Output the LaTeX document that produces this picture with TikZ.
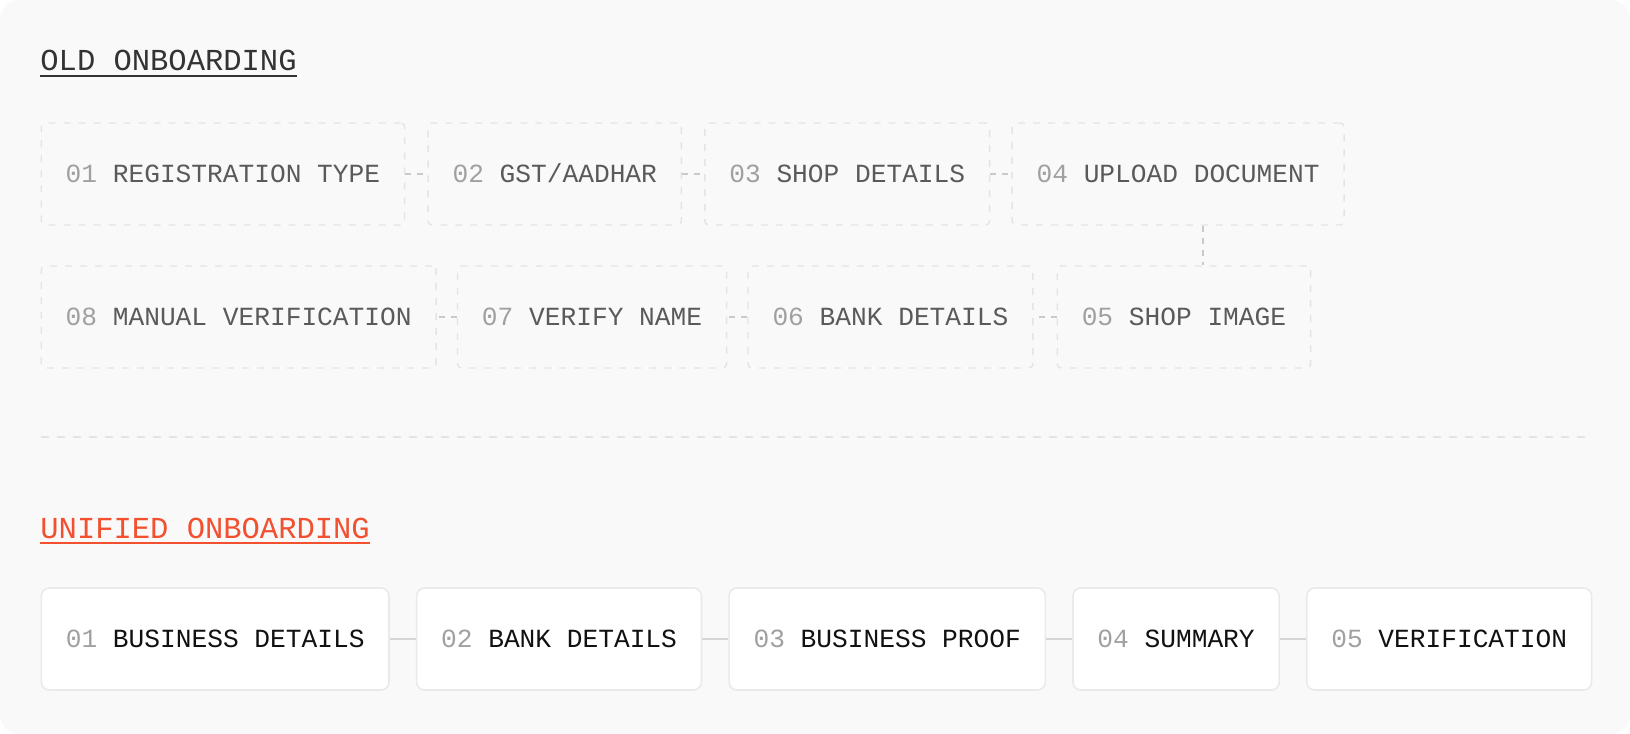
\documentclass[tikz,border=0pt]{standalone}
\usepackage{fontspec}
\setmonofont{Liberation Mono}
\usepackage{tikz}
\usetikzlibrary{positioning}
\definecolor{panelBg}{HTML}{F9F9F9}
\definecolor{oldEdge}{HTML}{E4E4E4}
\definecolor{oldLink}{HTML}{CACACA}
\definecolor{oldText}{HTML}{5A5A5A}
\definecolor{numGray}{HTML}{A0A0A0}
\definecolor{titleDark}{HTML}{333333}
\definecolor{accentRed}{HTML}{F2502F}
\definecolor{newEdge}{HTML}{EAEAEA}
\definecolor{newLink}{HTML}{D6D6D6}
\definecolor{newText}{HTML}{111111}
\newcommand{\stepNum}[1]{{\color{numGray}#1}}

\begin{document}
\begin{tikzpicture}[x=0.5pt, y=-0.5pt,
    boxfont/.style={font=\ttfamily\fontsize{13.1pt}{15pt}\selectfont},
    oldbox/.style={boxfont, draw=oldEdge, dash pattern=on 3.5pt off 4pt, line width=0.7pt,
      fill=panelBg, rounded corners=2pt, minimum height=51pt, inner xsep=12.25pt,
      inner ysep=0pt, text height=8.7pt, text depth=0pt, text=oldText},
    newbox/.style={boxfont, draw=newEdge, line width=0.8pt, fill=white, rounded corners=4pt,
      minimum height=51pt, inner xsep=12.25pt, inner ysep=0pt, text height=8.7pt,
      text depth=0pt, text=newText},
    oldlink/.style={draw=oldLink, dash pattern=on 3pt off 3pt, line width=0.6pt},
    newlink/.style={draw=newLink, line width=1pt},
    sepline/.style={draw=oldEdge, dash pattern=on 4pt off 4pt, line width=0.6pt},
    heading/.style={anchor=base west, inner sep=0pt, font=\ttfamily\fontsize{15.25pt}{18pt}\selectfont}
  ]
        \useasboundingbox (0,0) rectangle (1630,734);
        \fill[white] (0,0) rectangle (1630,734);
        \fill[panelBg, rounded corners=10pt] (0,0) rectangle (1630,734);

        % old flow
        \node[heading, text=titleDark] (hOld) at (40,70) {OLD ONBOARDING};
        \draw[titleDark, line width=1pt] ([yshift=-3pt]hOld.base west) -- ([yshift=-3pt]hOld.base east);

        \node[oldbox, anchor=west] (o01) at (40.5,174) {\stepNum{01} REGISTRATION TYPE};
        \node[oldbox, right=11pt of o01] (o02) {\stepNum{02} GST/AADHAR};
        \node[oldbox, right=11pt of o02] (o03) {\stepNum{03} SHOP DETAILS};
        \node[oldbox, right=10.5pt of o03] (o04) {\stepNum{04} UPLOAD DOCUMENT};

        \node[oldbox, anchor=west] (o08) at (40.5,317) {\stepNum{08} MANUAL VERIFICATION};
        \node[oldbox, right=10pt of o08] (o07) {\stepNum{07} VERIFY NAME};
        \node[oldbox, right=10pt of o07] (o06) {\stepNum{06} BANK DETAILS};
        \node[oldbox, right=11.5pt of o06] (o05) {\stepNum{05} SHOP IMAGE};

        \draw[oldlink] (o01) -- (o02);
        \draw[oldlink] (o02) -- (o03);
        \draw[oldlink] (o03) -- (o04);
        \coordinate (drop) at (1203,0);
        \draw[oldlink] (o04.south -| drop) -- (o05.north -| drop);
        \draw[oldlink] (o05) -- (o06);
        \draw[oldlink] (o06) -- (o07);
        \draw[oldlink] (o07) -- (o08);

        \coordinate (sepL) at (40.5,437);
        \coordinate (sepR) at (1590,437);
        \draw[sepline] (sepL) -- (sepR);

        % unified flow
        \node[heading, text=accentRed] (hNew) at (40,538) {UNIFIED ONBOARDING};
        \draw[accentRed, line width=1pt] ([yshift=-2.5pt]hNew.base west) -- ([yshift=-2.5pt]hNew.base east);

        \node[newbox, anchor=west] (n01) at (40.5,639) {\stepNum{01} BUSINESS DETAILS};
        \node[newbox, right=13pt of n01] (n02) {\stepNum{02} BANK DETAILS};
        \node[newbox, right=13pt of n02] (n03) {\stepNum{03} BUSINESS PROOF};
        \node[newbox, right=13pt of n03] (n04) {\stepNum{04} SUMMARY};
        \node[newbox, right=13pt of n04] (n05) {\stepNum{05} VERIFICATION};

        \draw[newlink] (n01) -- (n02);
        \draw[newlink] (n02) -- (n03);
        \draw[newlink] (n03) -- (n04);
        \draw[newlink] (n04) -- (n05);

      \end{tikzpicture}
\end{document}
